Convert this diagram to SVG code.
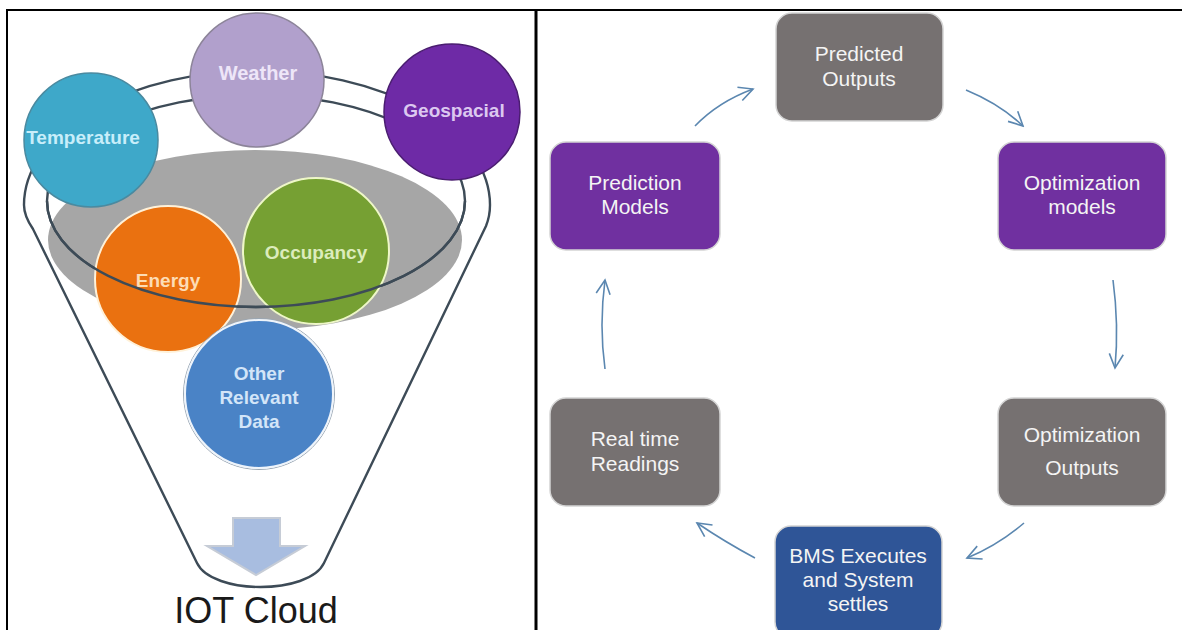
<svg xmlns="http://www.w3.org/2000/svg" width="1182" height="630" viewBox="0 0 1182 630">
<style>
.frame{stroke:#000;fill:none}
.ring{fill:none;stroke:#3d4b57;stroke-width:2.4}
.lbl{font-family:"Liberation Sans",Arial,sans-serif;font-size:19px;text-anchor:middle;font-weight:bold}
.box{stroke:#d4d4d4;stroke-width:1.5}
.bt{font-family:"Liberation Sans",Arial,sans-serif;font-size:21px;fill:#f4f4f4;text-anchor:middle}
.con{fill:none;stroke:#5b87b0;stroke-width:1.6;marker-end:url(#ah)}
</style>
<defs>
<marker id="ah" viewBox="-16 -9 18 18" refX="0" refY="0" markerWidth="18" markerHeight="18" markerUnits="userSpaceOnUse" orient="auto">
<path d="M-14,-7 L0,0 L-14,7" fill="none" stroke="#5b87b0" stroke-width="1.6"/>
</marker>
</defs>
<rect width="1182" height="630" fill="#fff"/>
<g id="frame">
<line class="frame" x1="7" y1="10" x2="7" y2="630" stroke-width="2"/>
<line class="frame" x1="6" y1="10" x2="1182" y2="10" stroke-width="2"/>
<line class="frame" x1="536" y1="10" x2="536" y2="630" stroke-width="3"/>
</g>
<g id="funnel">
<path class="ring" d="M33,229 Q24,216 24,205 A233 134 0 0 1 490 205 Q490,216 486,226 L324,563 C309,595 212,595 197,563 Z"/>
<ellipse cx="255" cy="240" rx="207" ry="90" fill="#a6a6a6"/>
<ellipse class="ring" cx="256" cy="201" rx="209" ry="106"/>
</g>
<g id="temperature">
<circle cx="91" cy="140" r="67" fill="#3ea8c9" stroke="#4a8aa0" stroke-width="1.5"/>
<text class="lbl" x="83" y="144" fill="#c8eefa">Temperature</text>
</g>
<g id="weather">
<circle cx="257" cy="80" r="67" fill="#b1a0cc" stroke="#8c8499" stroke-width="1.5"/>
<text class="lbl" x="258" y="80" fill="#eee6f8" style="font-size:20px">Weather</text>
</g>
<g id="geospacial">
<circle cx="452" cy="112" r="68" fill="#6e2aa6" stroke="#4a1d70" stroke-width="1.5"/>
<text class="lbl" x="454" y="117" fill="#dcc8f0">Geospacial</text>
</g>
<g id="energy">
<circle cx="168" cy="279" r="73" fill="#ea7110" stroke="#fff1d8" stroke-width="2"/>
<text class="lbl" x="168" y="287" fill="#fddcb5">Energy</text>
</g>
<g id="occupancy">
<circle cx="316" cy="251" r="73" fill="#76a033" stroke="#eef7c8" stroke-width="2"/>
<text class="lbl" x="316" y="259" fill="#dcecbc">Occupancy</text>
</g>
<g id="ring-front">
<path class="ring" d="M47,201 A209 106 0 0 0 465 201"/>
</g>
<g id="other">
<circle cx="259" cy="394" r="75.5" fill="none" stroke="#9aa7b4" stroke-width="1"/>
<circle cx="259" cy="394" r="74" fill="#4a83c6" stroke="#eef4fb" stroke-width="2"/>
<text class="lbl" x="259" y="380" fill="#d3e5f8">Other</text>
<text class="lbl" x="259" y="404" fill="#d3e5f8">Relevant</text>
<text class="lbl" x="259" y="428" fill="#d3e5f8">Data</text>
</g>
<g id="iot-cloud">
<path d="M233,518 H280 V546 H305 L256,575 L207,546 H233 Z" fill="#a8bde0" stroke="#c6ccd6" stroke-width="2" stroke-linejoin="miter"/>
<text x="256" y="623" font-family="'Liberation Sans',Arial,sans-serif" font-size="36" fill="#1a1a1a" text-anchor="middle">IOT Cloud</text>
</g>
<g id="predicted-outputs">
<rect class="box" x="776" y="13" width="167" height="108" rx="16" fill="#767171"/>
<text class="bt" x="859" y="61">Predicted</text>
<text class="bt" x="859" y="86">Outputs</text>
</g>
<g id="prediction-models">
<rect class="box" x="550" y="142" width="170" height="108" rx="16" fill="#7030a0"/>
<text class="bt" x="635" y="190">Prediction</text>
<text class="bt" x="635" y="214">Models</text>
</g>
<g id="optimization-models">
<rect class="box" x="998" y="142" width="168" height="108" rx="16" fill="#7030a0"/>
<text class="bt" x="1082" y="190">Optimization</text>
<text class="bt" x="1082" y="214">models</text>
</g>
<g id="real-time-readings">
<rect class="box" x="550" y="398" width="170" height="108" rx="16" fill="#767171"/>
<text class="bt" x="635" y="446">Real time</text>
<text class="bt" x="635" y="471">Readings</text>
</g>
<g id="optimization-outputs">
<rect class="box" x="998" y="398" width="168" height="108" rx="16" fill="#767171"/>
<text class="bt" x="1082" y="442">Optimization</text>
<text class="bt" x="1082" y="475">Outputs</text>
</g>
<g id="bms">
<rect class="box" x="775" y="526" width="167" height="112" rx="16" fill="#2f5597"/>
<text class="bt" x="858" y="563">BMS Executes</text>
<text class="bt" x="858" y="587">and System</text>
<text class="bt" x="858" y="611">settles</text>
</g>
<g id="connectors">
<path class="con" d="M695,126 Q718,102 753,89"/>
<path class="con" d="M966,90 Q1000,104 1023,126"/>
<path class="con" d="M1113,280 Q1119,325 1115,368"/>
<path class="con" d="M1024,523 Q998,545 967,558"/>
<path class="con" d="M755,558 Q725,542 697,523"/>
<path class="con" d="M605,369 Q599,325 605,280"/>
</g>
</svg>
